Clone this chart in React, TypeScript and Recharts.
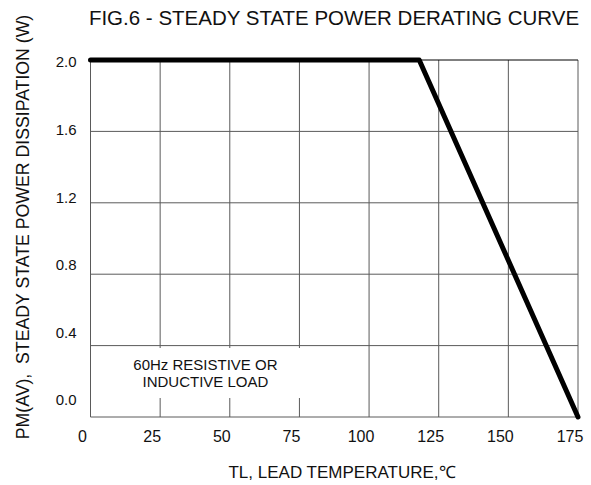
import React from "react";
import {
  LineChart,
  Line,
  XAxis,
  YAxis,
  CartesianGrid,
  ReferenceArea,
  ReferenceLine,
} from "recharts";

// ---- data ----
const temperatures = [0, 118, 175];
const powerValues = [2.0, 2.0, 0.0];
const xTicks = [0, 25, 50, 75, 100, 125, 150, 175];
const yTicks = [0, 0.4, 0.8, 1.2, 1.6, 2.0];
const yTickLabels = ["0.0", "0.4", "0.8", "1.2", "1.6", "2.0"];

const titleText = "FIG.6 - STEADY STATE POWER DERATING CURVE";
const xLabelText = "TL, LEAD TEMPERATURE,\u2103";
const yLabelText = "PM(AV),\u00a0\u00a0STEADY STATE POWER DISSIPATION (W)";
const noteLines = ["60Hz RESISTIVE OR", "INDUCTIVE LOAD"];

// annotation box in data units
const noteBox = { x1: 0.5, x2: 82, y1: 0.106, y2: 0.387 };

const data = temperatures.map((t, i) => ({ t, p: powerValues[i] }));

const FONT = "'Liberation Sans', Arial, sans-serif";
const GRID = "#5a5a5a";

const NoteLabel = (props: any) => {
  const vb = props.viewBox || {};
  const cx = vb.x + vb.width / 2;
  const cy = vb.y + vb.height / 2;
  return (
    <g>
      <text x={cx} y={cy - 3} textAnchor="middle" fontSize={15} fill="#111" fontFamily={FONT}>
        {noteLines[0]}
      </text>
      <text x={cx} y={cy + 14} textAnchor="middle" fontSize={15} fill="#111" fontFamily={FONT}>
        {noteLines[1]}
      </text>
    </g>
  );
};

export default function App() {
  return (
    <div style={{ position: "absolute", left: 0, top: 0, width: 591, height: 485, background: "#fff", fontFamily: FONT }}>
      <LineChart
        width={591}
        height={485}
        data={data}
        margin={{ top: 60, right: 13, bottom: 0, left: 0 }}
      >
        <CartesianGrid horizontal={false} stroke={GRID} strokeWidth={1} />
        <XAxis
          dataKey="t"
          type="number"
          domain={[0, 175]}
          ticks={xTicks}
          interval={0}
          height={68}
          axisLine={false}
          tickLine={false}
          tickSize={12}
          tickMargin={2}
          tick={{ dx: -8, fontSize: 16, fill: "#111", fontFamily: FONT }}
        />
        <YAxis
          yAxisId="lbl"
          type="number"
          domain={[-0.1006, 2.0118]}
          allowDataOverflow
          ticks={yTicks}
          interval={0}
          width={90.5}
          axisLine={false}
          tickLine={false}
          tickSize={12}
          tickMargin={2}
          tickFormatter={(v: number) => yTickLabels[yTicks.indexOf(v)] ?? String(v)}
          tick={{ fontSize: 15, fill: "#111", fontFamily: FONT }}
        />
        <YAxis
          yAxisId="p"
          type="number"
          domain={[0, 2]}
          ticks={yTicks}
          interval={0}
          width={0}
          axisLine={false}
          tickLine={false}
          tick={false}
        />
        {yTicks.map((v) => (
          <ReferenceLine key={v} yAxisId="p" y={v} stroke={v === 2 ? "#000" : GRID} strokeWidth={1} />
        ))}
        <ReferenceArea
          yAxisId="p"
          x1={noteBox.x1}
          x2={noteBox.x2}
          y1={noteBox.y1}
          y2={noteBox.y2}
          fill="#fff"
          fillOpacity={1}
          stroke="none"
          label={<NoteLabel />}
        />
        <Line
          yAxisId="p"
          type="linear"
          dataKey="p"
          stroke="#000"
          strokeWidth={5}
          strokeLinecap="round"
          strokeLinejoin="round"
          dot={false}
          activeDot={false}
          isAnimationActive={false}
        />
        <text x={334} y={25} textAnchor="middle" fontSize={20.5} fill="#111" fontFamily={FONT}>
          {titleText}
        </text>
        <text x={342} y={478} textAnchor="middle" fontSize={17} fill="#111" fontFamily={FONT}>
          {xLabelText}
        </text>
        <text
          x={29}
          y={227}
          textAnchor="middle"
          fontSize={17.7}
          fill="#111"
          fontFamily={FONT}
          transform="rotate(-90, 29, 227)"
        >
          {yLabelText}
        </text>
      </LineChart>
    </div>
  );
}
